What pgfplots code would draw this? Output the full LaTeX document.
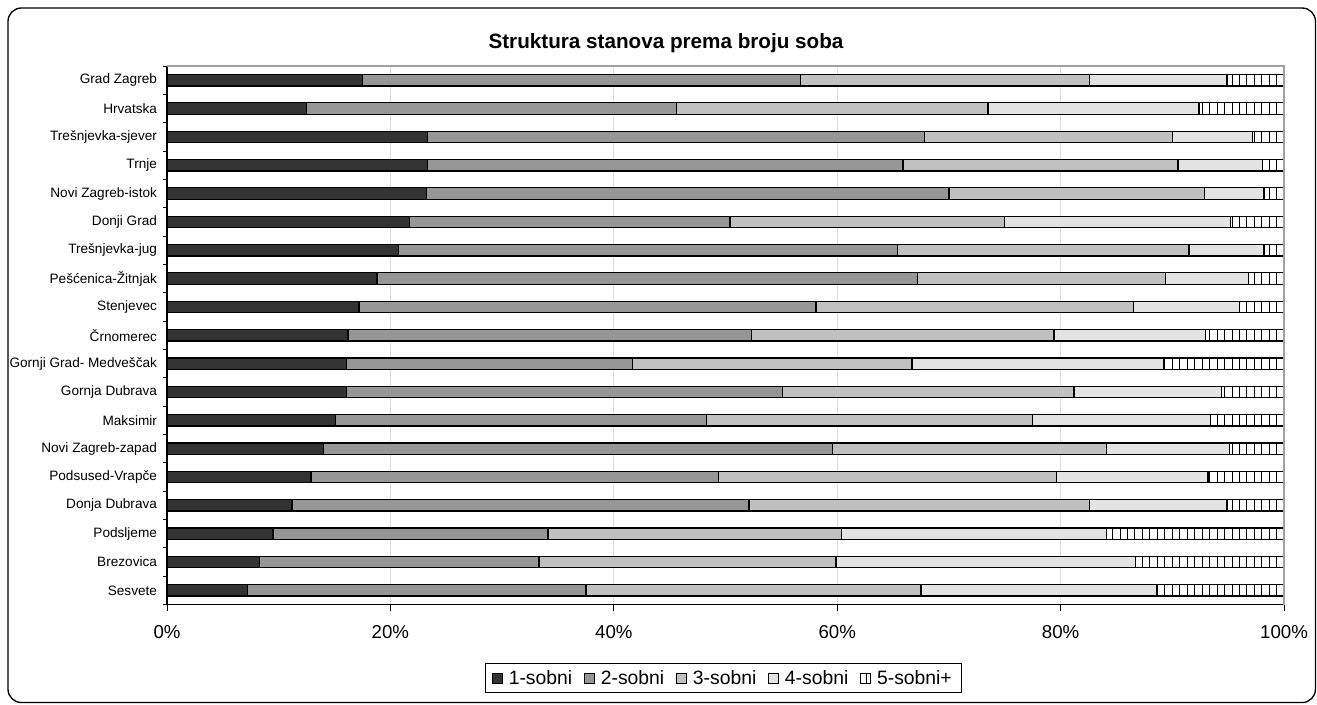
\documentclass[border=0pt]{standalone}
\usepackage{fontspec}
\setmainfont{Liberation Sans}
\usepackage{pgfplots}
\pgfplotsset{compat=1.18}
\usepackage{pgfplotstable}
\usetikzlibrary{patterns.meta}

\definecolor{c1}{HTML}{333333}
\definecolor{c2}{HTML}{969696}
\definecolor{c3}{HTML}{C0C0C0}
\definecolor{c4}{HTML}{E3E3E3}
\definecolor{gridc}{HTML}{DDDDDD}
\definecolor{framec}{HTML}{A0A0A0}

\pgfplotstableread{
idx s1 s2 s3 s4 s5
0 17.5 39.2 25.9 12.3 5.1
1 12.5 33.1 27.9 18.9 7.6
2 23.3 44.5 22.2 7.2 2.8
3 23.3 42.6 24.6 7.6 1.9
4 23.2 46.8 22.9 5.3 1.8
5 21.7 28.7 24.6 20.2 4.8
6 20.7 44.7 26.1 6.7 1.8
7 18.8 48.4 22.2 7.4 3.2
8 17.2 40.9 28.4 9.5 4.0
9 16.2 36.1 27.1 13.6 7.0
10 16.1 25.6 25.0 22.5 10.8
11 16.1 39.0 26.1 13.2 5.6
12 15.1 33.2 29.2 15.9 6.6
13 14.0 45.6 24.5 11.0 4.9
14 12.9 36.5 30.2 13.6 6.8
15 11.2 40.9 30.5 12.3 5.1
16 9.5 24.6 26.3 23.7 15.9
17 8.3 25.0 26.6 26.8 13.3
18 7.2 30.3 30.0 21.1 11.4
}\datatable

\pgfplotsset{
  mybar/.style={draw=black, line width=0.95pt,
    legend image code/.code={\draw[##1, line width=0.6pt] (0pt,-3.7pt) rectangle (7.4pt,3.7pt);}},
}

\begin{document}
\begin{tikzpicture}
\useasboundingbox (0pt,0pt) rectangle (987.75pt,528pt);
\draw[line width=1pt, rounded corners=10pt] (6pt,1.1pt) rectangle (986.6pt,522pt);
\node[font=\fontsize{15.5}{18}\selectfont\bfseries] at (499.5pt,495.7pt) {Struktura stanova prema broju soba};
\begin{axis}[
  at={(125.25pt,74.6pt)}, anchor=south west,
  scale only axis, width=837.75pt, height=403.9pt,
  xbar stacked, bar width=8.6pt,
  xmin=0, xmax=100, ymin=-0.5, ymax=18.5, y dir=reverse,
  axis x line*=bottom, axis y line*=left,
  axis line style={-, black, line width=0.8pt},
  xtick={0,20,...,100},
  xticklabel={\pgfmathprintnumber{\tick}\%},
  /pgf/number format/assume math mode=true,
  ytick={0,...,18},
  yticklabels={Grad Zagreb, Hrvatska, Trešnjevka-sjever, Trnje, Novi Zagreb-istok, Donji Grad, Trešnjevka-jug, Pešćenica-Žitnjak, Stenjevec, Črnomerec, Gornji Grad- Medveščak, Gornja Dubrava, Maksimir, Novi Zagreb-zapad, Podsused-Vrapče, Donja Dubrava, Podsljeme, Brezovica, Sesvete},
  minor ytick={-0.5,0.5,...,18.5},
  tick align=outside,
  major tick length=5pt, minor tick length=3pt,
  major y tick style={draw=none},
  tick style={black, line width=0.6pt},
  x tick label style={font=\fontsize{14}{16}\selectfont, yshift=-7pt},
  y tick label style={font=\fontsize{10.2}{12}\selectfont, xshift=1pt},
  xmajorgrids, grid style={gridc, line width=0.6pt},
  legend columns=-1,
  legend style={at={(0.498,-0.1365)}, anchor=center, draw=black, line width=0.6pt,
    font=\fontsize{14.5}{17}\selectfont, inner xsep=5pt, inner ysep=3pt,
    /tikz/every odd column/.append style={column sep=2.5pt},
    /tikz/every even column/.append style={column sep=7pt}},
  clip=false,
]
\draw[framec, line width=0.8pt] (rel axis cs:0,1) -- (rel axis cs:1,1) -- (rel axis cs:1,0);
\addplot[mybar, fill=c1] table[x=s1, y=idx] {\datatable};
\addplot[mybar, fill=c2] table[x=s2, y=idx] {\datatable};
\addplot[mybar, fill=c3] table[x=s3, y=idx] {\datatable};
\addplot[mybar, fill=c4] table[x=s4, y=idx] {\datatable};
\addplot[mybar, fill=white, postaction={pattern={Lines[angle=90, distance=5.6pt, line width=0.75pt]}, pattern color=black}] table[x=s5, y=idx] {\datatable};
\legend{1-sobni, 2-sobni, 3-sobni, 4-sobni, 5-sobni+}
\end{axis}
\end{tikzpicture}
\end{document}
